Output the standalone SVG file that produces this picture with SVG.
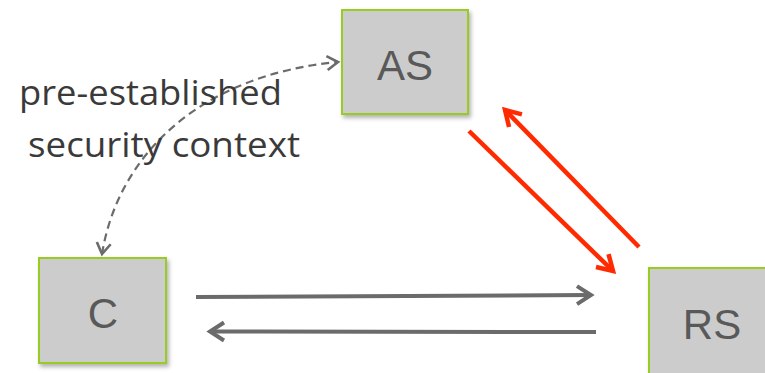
<svg xmlns="http://www.w3.org/2000/svg" width="765" height="373" viewBox="0 0 765 373">
  <defs>
    <style>
      .box { fill: #cccccc; stroke: #99cc22; stroke-width: 2; filter: url(#shadow); }
      .name { font-family: "Liberation Sans", Arial, sans-serif; font-size: 42px; fill: #595959; text-anchor: middle; }
      .label { font-family: "Open Sans", "Liberation Sans", sans-serif; font-size: 34px; fill: #3a3a3a; }
      .gray { stroke: #6b6b6b; stroke-width: 4; fill: none; }
      .red { stroke: #ff2a00; stroke-width: 4.5; fill: none; }
      .dash { stroke: #6b6b6b; stroke-width: 2.2; fill: none; stroke-dasharray: 8 5; }
    </style>
    <filter id="shadow" x="-10%" y="-10%" width="130%" height="130%">
      <feDropShadow dx="2" dy="3" stdDeviation="2" flood-color="#000" flood-opacity="0.3"/>
    </filter>
    <marker id="headGray" markerUnits="userSpaceOnUse" viewBox="-18 -12 22 24" refX="0" refY="0" markerWidth="22" markerHeight="24" orient="auto">
      <path d="M-14,-9 L0,0 L-14,9" fill="none" stroke="#6b6b6b" stroke-width="4"/>
    </marker>
    <marker id="headRed" markerUnits="userSpaceOnUse" viewBox="-18 -12 22 24" refX="0" refY="0" markerWidth="22" markerHeight="24" orient="auto">
      <path d="M-15,-9 L0,0 L-15,9" fill="none" stroke="#ff2a00" stroke-width="4.5"/>
    </marker>
    <marker id="headDash" markerUnits="userSpaceOnUse" viewBox="-14 -10 18 20" refX="0" refY="0" markerWidth="18" markerHeight="20" orient="auto-start-reverse">
      <path d="M-11,-7 L0,0 L-11,7" fill="none" stroke="#6b6b6b" stroke-width="2.6"/>
    </marker>
  </defs>

  <rect width="765" height="373" fill="#ffffff"/>

  <g id="connectors">
    <!-- dashed trust relation between C and AS -->
    <path class="dash" d="M102,254 C118,155 200,75 338,62" marker-start="url(#headDash)" marker-end="url(#headDash)"/>
    <!-- AS <-> RS -->
    <line class="red" x1="469" y1="131" x2="613" y2="271" marker-end="url(#headRed)"/>
    <line class="red" x1="639" y1="247" x2="505" y2="110" marker-end="url(#headRed)"/>
    <!-- C <-> RS -->
    <line class="gray" x1="196" y1="297" x2="591" y2="295" marker-end="url(#headGray)"/>
    <line class="gray" x1="596" y1="332" x2="210" y2="331.5" marker-end="url(#headGray)"/>
  </g>

  <g id="AS">
    <rect class="box" x="342" y="10" width="126" height="104"/>
    <text class="name" x="405" y="80">AS</text>
  </g>

  <g id="C">
    <rect class="box" x="39" y="258" width="127" height="105"/>
    <text class="name" x="103" y="328">C</text>
  </g>

  <g id="RS">
    <rect class="box" x="649" y="268" width="127" height="110"/>
    <text class="name" x="712" y="339">RS</text>
  </g>

  <g id="label">
    <text class="label" x="19" y="105" textLength="263" lengthAdjust="spacingAndGlyphs">pre-established</text>
    <text class="label" x="28" y="157" textLength="272" lengthAdjust="spacingAndGlyphs">security context</text>
  </g>
</svg>
